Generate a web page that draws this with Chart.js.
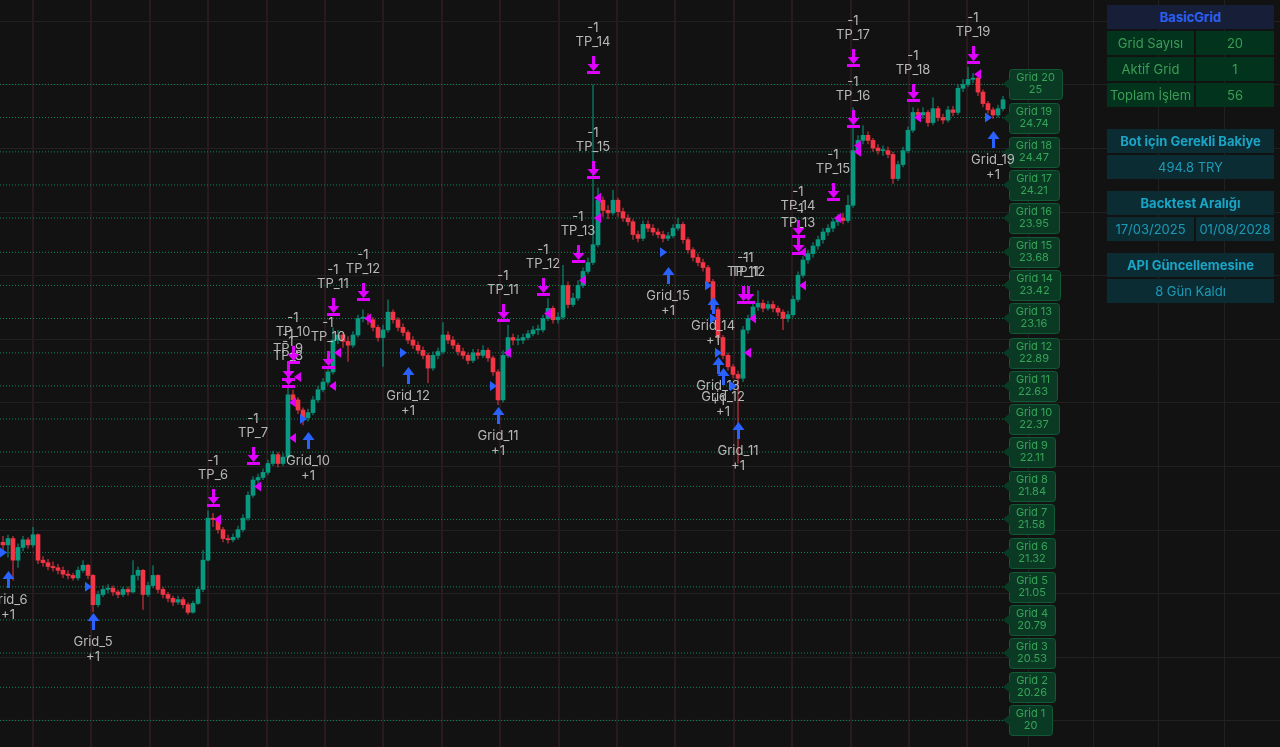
<!DOCTYPE html>
<html>
<head>
<meta charset="utf-8">
<script src="https://cdn.jsdelivr.net/npm/chart.js@4.4.1/dist/chart.umd.min.js"></script>
<style>
  html, body { margin: 0; padding: 0; background: #121212; }
  #wrap { position: relative; width: 1280px; height: 747px; overflow: hidden; }
  #c { position: absolute; left: 0; top: 0; }
  .cell { position: absolute; height: 24px; display: flex; align-items: center; justify-content: center;
          font-family: Inter, "Noto Sans", sans-serif; font-size: 13px; }
  .hdr { background: #171f38; color: #2b5ef0; font-weight: 700; }
  .grn { background: #02331d; color: #3d9d56; }
  .tealh { background: #0c2c33; color: #1aa5c6; font-weight: 700; }
  .teal { background: #0c2c33; color: #1d9ab6; }
</style>
</head>
<body>
<div id="wrap">
  <canvas id="c" width="1280" height="747"></canvas>

  <div class="cell hdr" style="left:1107px;top:5px;width:167px;">BasicGrid</div>
  <div class="cell grn" style="left:1107px;top:31px;width:87px;">Grid Sayısı</div>
  <div class="cell grn" style="left:1196px;top:31px;width:78px;">20</div>
  <div class="cell grn" style="left:1107px;top:57px;width:87px;">Aktif Grid</div>
  <div class="cell grn" style="left:1196px;top:57px;width:78px;">1</div>
  <div class="cell grn" style="left:1107px;top:83px;width:87px;">Toplam İşlem</div>
  <div class="cell grn" style="left:1196px;top:83px;width:78px;">56</div>

  <div class="cell tealh" style="left:1107px;top:129px;width:167px;">Bot için Gerekli Bakiye</div>
  <div class="cell teal" style="left:1107px;top:155px;width:167px;">494.8 TRY</div>

  <div class="cell tealh" style="left:1107px;top:191px;width:167px;">Backtest Aralığı</div>
  <div class="cell teal" style="left:1107px;top:217px;width:87px;">17/03/2025</div>
  <div class="cell teal" style="left:1196px;top:217px;width:78px;">01/08/2028</div>

  <div class="cell tealh" style="left:1107px;top:253px;width:167px;">API Güncellemesine</div>
  <div class="cell teal" style="left:1107px;top:279px;width:167px;">8 Gün Kaldı</div>
</div>

<script>
// price candles, one per bar; each candle opens at the previous close
const firstOpen = 21.40;
const close = [
  21.38,21.43,21.26,21.36,21.42,21.38,21.46,21.26,21.24,21.21,
  21.20,21.18,21.15,21.14,21.12,21.18,21.22,21.14,20.91,20.99,
  21.03,21.04,21.01,20.99,21.03,21.01,21.14,21.18,20.99,21.06,
  21.14,21.03,20.99,20.96,20.93,20.95,20.91,20.85,20.92,21.03,
  21.26,21.59,21.58,21.50,21.43,21.42,21.44,21.50,21.59,21.77,
  21.89,21.91,21.95,22.02,22.09,22.02,22.07,22.56,22.52,22.44,
  22.38,22.42,22.52,22.60,22.66,22.74,22.99,23.03,22.98,22.95,
  23.03,23.16,23.17,23.15,23.09,23.01,23.07,23.21,23.15,23.09,
  23.05,22.99,22.95,22.91,22.87,22.77,22.87,22.90,23.03,22.99,
  22.95,22.90,22.87,22.83,22.89,22.87,22.91,22.85,22.74,22.52,
  22.87,23.01,22.99,22.99,23.01,23.04,23.07,23.07,23.16,23.24,
  23.15,23.17,23.42,23.27,23.32,23.42,23.53,23.60,23.74,24.09,
  24.01,23.99,24.09,24.00,23.95,23.92,23.82,23.79,23.90,23.87,
  23.84,23.82,23.79,23.81,23.87,23.90,23.78,23.70,23.64,23.60,
  23.56,23.45,23.23,23.01,22.87,22.78,22.72,22.69,23.07,23.16,
  23.25,23.28,23.24,23.27,23.24,23.21,23.16,23.19,23.31,23.50,
  23.62,23.67,23.73,23.78,23.84,23.87,23.92,23.95,23.93,24.05,
  24.48,24.56,24.60,24.56,24.50,24.48,24.48,24.45,24.26,24.37,
  24.48,24.64,24.78,24.76,24.78,24.70,24.81,24.74,24.72,24.80,
  24.78,24.97,25.00,25.04,25.05,24.94,24.85,24.80,24.76,24.81,
  24.88
];
const high = [
  21.45,21.46,21.45,21.39,21.45,21.44,21.52,21.47,21.29,21.27,
  21.25,21.23,21.21,21.18,21.16,21.21,21.26,21.23,21.15,21.02,
  21.06,21.07,21.06,21.03,21.05,21.05,21.26,21.21,21.19,21.09,
  21.22,21.15,21.05,21.01,20.98,20.98,20.97,20.93,20.94,21.05,
  21.34,21.65,21.63,21.60,21.52,21.46,21.47,21.53,21.62,21.80,
  21.92,21.94,21.98,22.05,22.12,22.11,22.10,22.62,22.60,22.54,
  22.46,22.45,22.55,22.63,22.69,22.77,23.09,23.07,23.05,23.02,
  23.06,23.19,23.23,23.20,23.17,23.11,23.11,23.31,23.23,23.17,
  23.12,23.07,23.02,22.98,22.94,22.89,22.90,22.93,23.13,23.06,
  23.02,22.97,22.93,22.89,22.92,22.92,22.95,22.93,22.87,22.76,
  22.91,23.11,23.04,23.03,23.04,23.07,23.10,23.11,23.19,23.32,
  23.26,23.21,23.58,23.45,23.36,23.46,23.56,23.64,25.00,24.19,
  24.12,24.05,24.17,24.11,24.03,23.98,23.94,23.85,23.93,23.93,
  23.90,23.87,23.85,23.84,23.90,23.95,23.92,23.80,23.72,23.67,
  23.63,23.58,23.47,23.25,23.03,22.89,22.80,22.75,23.10,23.19,
  23.28,23.38,23.31,23.30,23.30,23.26,23.23,23.22,23.34,23.53,
  23.65,23.70,23.76,23.81,23.87,23.90,23.95,23.98,23.99,24.13,
  24.82,24.60,24.68,24.63,24.58,24.53,24.52,24.51,24.47,24.40,
  24.51,24.67,24.82,24.81,24.82,24.80,24.90,24.83,24.77,24.83,
  24.83,25.00,25.04,25.14,25.09,25.07,24.96,24.87,24.82,24.84,
  24.91
];
const low = [
  21.33,21.28,21.10,21.20,21.33,21.35,21.36,21.23,21.21,21.18,
  21.17,21.15,21.12,21.11,21.10,21.10,21.16,21.11,20.85,20.89,
  20.97,21.00,20.98,20.96,20.97,20.98,21.00,21.10,20.87,20.97,
  21.04,21.00,20.96,20.93,20.90,20.91,20.88,20.83,20.84,20.91,
  21.01,21.25,21.52,21.47,21.40,21.39,21.40,21.42,21.48,21.57,
  21.75,21.86,21.89,21.93,22.00,21.99,22.00,22.05,22.49,22.41,
  22.32,22.35,22.40,22.50,22.58,22.64,22.72,22.96,22.93,22.82,
  22.93,23.01,23.13,23.11,23.06,22.98,22.78,23.05,23.12,23.06,
  23.02,22.96,22.92,22.88,22.84,22.65,22.75,22.84,22.88,22.96,
  22.92,22.87,22.84,22.80,22.81,22.84,22.85,22.82,22.71,22.48,
  22.50,22.85,22.95,22.95,22.96,22.99,23.02,23.03,23.05,23.14,
  23.12,23.12,23.15,23.24,23.25,23.30,23.40,23.51,23.58,23.72,
  23.96,23.94,23.97,23.96,23.92,23.89,23.78,23.76,23.77,23.84,
  23.81,23.79,23.76,23.77,23.79,23.85,23.75,23.67,23.61,23.57,
  23.53,23.42,23.20,22.98,22.84,22.75,22.69,22.02,22.66,23.04,
  23.14,23.22,23.21,23.22,23.21,23.18,23.07,23.13,23.17,23.29,
  23.48,23.59,23.64,23.70,23.75,23.81,23.84,23.89,23.90,23.91,
  24.03,24.45,24.53,24.53,24.47,24.45,24.44,24.42,24.22,24.24,
  24.35,24.46,24.62,24.72,24.73,24.67,24.68,24.71,24.69,24.70,
  24.75,24.76,24.94,24.98,25.01,24.91,24.82,24.77,24.73,24.74,
  24.79
];

// grid levels of the bot (Grid 1 .. Grid 20)
const gridLevels = [20, 20.26, 20.53, 20.79, 21.05, 21.32, 21.58, 21.84, 22.11, 22.37,
                    22.63, 22.89, 23.16, 23.42, 23.68, 23.95, 24.21, 24.47, 24.74, 25];

// buy orders: bar, label, fill price, mark price
const buyBar  = [1, 18, 61, 81, 99, 133, 142, 143, 144, 147, 198];
const buyName = ['Grid_6','Grid_5','Grid_10','Grid_12','Grid_11','Grid_15','Grid_14','Grid_13','Grid_12','Grid_11','Grid_19'];
const buyFill = [21.32, 21.05, 22.37, 22.89, 22.63, 23.68, 23.42, 23.16, 22.89, 22.63, 24.74];
const buyMark = [21.17, 20.84, 22.26, 22.77, 22.46, 23.56, 23.32, 22.85, 22.76, 22.34, 24.63];

// take-profit orders: bar, label, fill price, mark price
const sellBar  = [42, 50, 57, 57, 58, 65, 66, 72, 100, 108, 115, 118, 118, 148, 149, 159, 159, 166, 170, 170, 182, 194];
const sellName = ['TP_6','TP_7','TP_8','TP_9','TP_10','TP_10','TP_11','TP_12','TP_11','TP_12','TP_13',
                  'TP_14','TP_15','TP_11','TP_12','TP_13','TP_14','TP_15','TP_16','TP_17','TP_18','TP_19'];
const sellFill = [21.58, 21.84, 22.22, 22.50, 22.70, 22.63, 22.89, 23.16, 22.89, 23.20, 23.46,
                  24.11, 23.95, 22.89, 23.16, 23.42, 23.68, 23.95, 24.52, 24.47, 24.74, 25.08];
const sellMark = [21.68, 22.01, 22.61, 22.67, 22.80, 22.76, 23.18, 23.30, 23.13, 23.34, 23.60,
                  25.08, 24.26, 23.27, 23.27, 23.66, 23.79, 24.08, 24.66, 25.14, 24.86, 25.16];

// background grid ticks
const priceTicks = [20, 20.5, 21, 21.5, 22, 22.5, 23, 23.5, 24, 24.5, 25, 25.5];
const sessionBars = [6, 17.68, 29.36, 41.04, 52.72, 64.4, 76.08, 87.76, 99.44, 111.12,
                     122.8, 134.48, 146.16, 157.84, 169.52, 181.2, 192.88];
const futureBars = [205, 218, 231, 244.2];

const UP = '#089981', DOWN = '#f23645';
const BLUE = '#2962ff', PINK = '#e000ff', TXT = '#b8b8b8';
const X_MIN = -0.6, X_MAX = 255.4;

const open = close.map((c, i) => i === 0 ? firstOpen : close[i - 1]);
const barColor = close.map((c, i) => c >= open[i] ? UP : DOWN);
const lastBar = close.length - 1;

function tri(ctx, p, color) {
  ctx.fillStyle = color;
  ctx.beginPath();
  ctx.moveTo(p[0][0], p[0][1]);
  ctx.lineTo(p[1][0], p[1][1]);
  ctx.lineTo(p[2][0], p[2][1]);
  ctx.closePath();
  ctx.fill();
}

const backgroundGrid = {
  id: 'backgroundGrid',
  beforeDatasetsDraw(chart) {
    const { ctx, scales: { x, y }, width, height } = chart;
    ctx.save();
    ctx.lineWidth = 1;
    ctx.strokeStyle = '#212121';
    priceTicks.forEach(p => {
      const py = Math.round(y.getPixelForValue(p)) + 0.5;
      ctx.beginPath(); ctx.moveTo(0, py); ctx.lineTo(width, py); ctx.stroke();
    });
    futureBars.forEach(b => {
      const px = Math.round(x.getPixelForValue(b)) + 0.5;
      ctx.beginPath(); ctx.moveTo(px, 0); ctx.lineTo(px, height); ctx.stroke();
    });
    ctx.lineWidth = 2;
    ctx.strokeStyle = '#281a1d';
    sessionBars.forEach(b => {
      const px = Math.round(x.getPixelForValue(b));
      ctx.beginPath(); ctx.moveTo(px, 0); ctx.lineTo(px, height); ctx.stroke();
    });
    ctx.restore();
  }
};

const orderMarks = {
  id: 'orderMarks',
  afterDatasetsDraw(chart) {
    const { ctx, scales: { x, y } } = chart;
    ctx.save();
    ctx.font = '13px Inter, "Noto Sans", sans-serif';
    ctx.textAlign = 'center';
    ctx.textBaseline = 'middle';

    buyBar.forEach((b, k) => {
      const cx = Math.round(x.getPixelForValue(b));
      const fy = y.getPixelForValue(buyFill[k]);
      const tx = cx - 5;
      tri(ctx, [[tx - 3, fy - 5], [tx - 3, fy + 5], [tx + 4, fy]], BLUE);
      const ty = Math.round(y.getPixelForValue(buyMark[k]));
      tri(ctx, [[cx + 0.5, ty - 1], [cx - 5.5, ty + 7], [cx + 6.5, ty + 7]], BLUE);
      ctx.fillRect(cx - 1, ty + 6, 3, 10);
      ctx.fillStyle = TXT;
      ctx.fillText(buyName[k], cx, ty + 28);
      ctx.fillText('+1', cx, ty + 43);
    });

    sellBar.forEach((b, k) => {
      const cx = Math.round(x.getPixelForValue(b));
      const fy = y.getPixelForValue(sellFill[k]);
      const tx = cx + 5;
      tri(ctx, [[tx - 4, fy], [tx + 3, fy - 5], [tx + 3, fy + 5]], PINK);
      const by = Math.round(y.getPixelForValue(sellMark[k]));
      ctx.fillStyle = PINK;
      ctx.fillRect(cx - 1, by - 18, 3, 10);
      tri(ctx, [[cx - 5.5, by - 10], [cx + 6.5, by - 10], [cx + 0.5, by - 3]], PINK);
      ctx.fillRect(cx - 6, by - 3, 13, 3);
      ctx.fillStyle = TXT;
      ctx.fillText(sellName[k], cx, by - 32);
      ctx.fillText('-1', cx, by - 46);
    });
    ctx.restore();
  }
};

const gridTags = {
  id: 'gridTags',
  afterDatasetsDraw(chart) {
    const { ctx, scales: { x, y } } = chart;
    ctx.save();
    ctx.font = '11px Inter, "Noto Sans", sans-serif';
    ctx.textAlign = 'center';
    ctx.textBaseline = 'middle';
    const x0 = Math.round(x.getPixelForValue(lastBar)) + 6;
    gridLevels.forEach((lv, k) => {
      const py = Math.round(y.getPixelForValue(lv));
      const t1 = 'Grid ' + (k + 1), t2 = String(lv);
      const w = Math.round(Math.max(ctx.measureText(t1).width, ctx.measureText(t2).width) + 14);
      ctx.fillStyle = '#0a3a24';
      ctx.strokeStyle = '#125a36';
      ctx.lineWidth = 1;
      ctx.beginPath();
      ctx.roundRect(x0 + 0.5, py - 14.5, w, 30, 3);
      ctx.fill();
      ctx.stroke();
      tri(ctx, [[x0 - 6, py], [x0 + 1, py - 6], [x0 + 1, py + 6]], '#0a3a24');
      ctx.fillStyle = '#36a457';
      ctx.fillText(t1, x0 + w / 2, py - 6);
      ctx.fillText(t2, x0 + w / 2, py + 6);
    });
    ctx.restore();
  }
};

const levelSets = gridLevels.map(lv => ({
  type: 'line',
  data: [{ x: X_MIN, y: lv }, { x: lastBar, y: lv }],
  borderColor: '#0e8458',
  borderWidth: 1,
  borderDash: [1, 2],
  pointRadius: 0,
  order: 3
}));

new Chart(document.getElementById('c').getContext('2d'), {
  type: 'bar',
  data: {
    datasets: [
      {
        type: 'bar',
        data: close.map((c, i) => ({ x: i, y: [open[i], c] })),
        backgroundColor: barColor,
        barPercentage: 1,
        categoryPercentage: 1,
        maxBarThickness: 4,
        minBarLength: 1,
        grouped: false,
        order: 1
      },
      {
        type: 'bar',
        data: close.map((c, i) => ({ x: i, y: [low[i], high[i]] })),
        backgroundColor: barColor,
        maxBarThickness: 1,
        grouped: false,
        order: 2
      },
      ...levelSets
    ]
  },
  options: {
    responsive: false,
    animation: false,
    layout: { padding: 0 },
    plugins: { legend: { display: false }, tooltip: { enabled: false } },
    scales: {
      x: { type: 'linear', min: X_MIN, max: X_MAX, offset: false, display: false },
      y: { type: 'linear', min: 19.791, max: 25.664, display: false }
    }
  },
  plugins: [backgroundGrid, gridTags, orderMarks]
});
</script>
</body>
</html>
